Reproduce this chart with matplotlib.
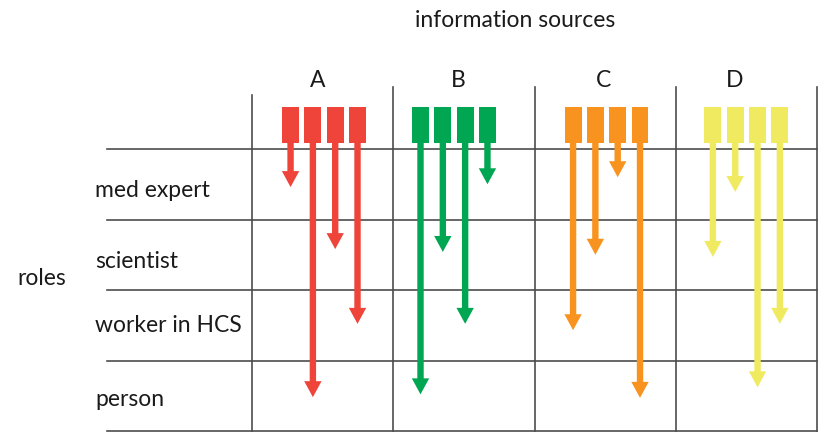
import matplotlib.pyplot as plt
from matplotlib.patches import Rectangle, FancyArrowPatch

# data: which depth (in role rows, measured from the header line) each arrow reaches
sources = ['A', 'B', 'C', 'D']
roles = ['med expert', 'scientist', 'worker in HCS', 'person']
arrow_depth = {
    'A': [0.54, 3.52, 1.42, 2.48],
    'B': [3.48, 1.46, 2.48, 0.50],
    'C': [2.57, 1.50, 0.40, 3.53],
    'D': [1.53, 0.61, 3.38, 2.48],
}
colors = {'A': '#EF443A', 'B': '#00A651', 'C': '#F7931E', 'D': '#EFEA60'}

# layout (column / row units, origin at the top-left of the role grid)
group_center = [0.51, 0.43, 0.51, 0.50]
label_x = [0.467, 1.458, 2.488, 3.42]
block_gap = 0.158
block_w = 0.12
block_top, block_bot = -0.596, -0.085
grid_col = '#4d4d4d'

fig = plt.figure(figsize=(8.22, 4.35), dpi=100)
ax = fig.add_axes([0, 0, 1, 1])
ax.set_xlim(-252 / 141.25, (822 - 252) / 141.25)
ax.set_ylim((435 - 150) / 70.5, -150 / 70.5)
ax.axis('off')

font = ['Lato', 'DejaVu Sans']
txt_col = '#1a1a1a'
fs = 16.5

# grid
for r in range(len(roles) + 1):
    ax.plot([-1.027, len(sources)], [r, r], color=grid_col, lw=1.2, zorder=1)
for c in range(len(sources) + 1):
    top = -0.77 if c == 0 else -0.88
    ax.plot([c, c], [top, len(roles)], color=grid_col, lw=1.2, zorder=1)

# header text
ax.text(1.862, -1.745, 'information sources', ha='center', va='baseline',
        fontsize=fs, family=font, color=txt_col)
for c, s in enumerate(sources):
    ax.text(label_x[c], -0.894, s, ha='center', va='baseline',
            fontsize=fs, family=font, color=txt_col)

# role labels
role_base = [0.665, 1.68, 2.58, 3.63]
for r, name in enumerate(roles):
    ax.text(-1.111, role_base[r], name, ha='left', va='baseline',
            fontsize=fs, family=font, color=txt_col)
ax.text(-1.664, 1.915, 'roles', ha='left', va='baseline',
        fontsize=fs, family=font, color=txt_col)

# blocks and arrows
for c, s in enumerate(sources):
    n = len(arrow_depth[s])
    for i, depth in enumerate(arrow_depth[s]):
        x = c + group_center[c] + (i - (n - 1) / 2) * block_gap
        ax.add_patch(Rectangle((x - block_w / 2, block_top), block_w,
                               block_bot - block_top, facecolor=colors[s],
                               edgecolor='none', zorder=3))
        arr = FancyArrowPatch((x, block_bot - 0.01), (x, depth),
                              arrowstyle='simple,head_length=11.5,head_width=12.5,tail_width=4.6',
                              mutation_scale=1, shrinkA=0, shrinkB=0,
                              color=colors[s], lw=0, zorder=2)
        ax.add_patch(arr)

plt.savefig('out.png', dpi=100)
